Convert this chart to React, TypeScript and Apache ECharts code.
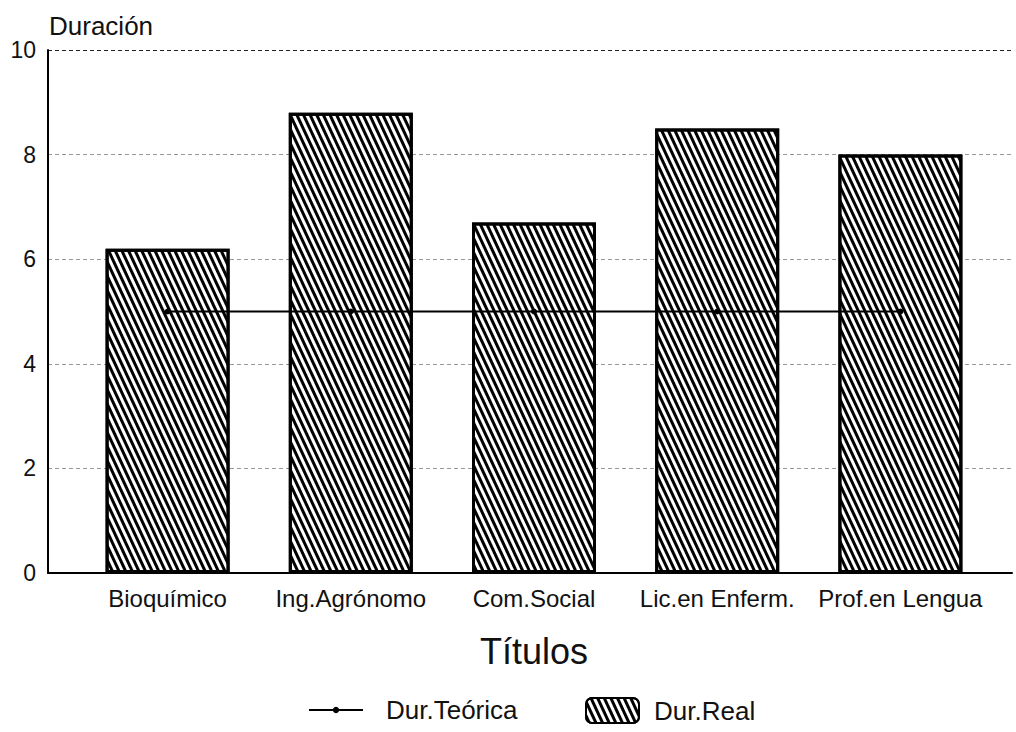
import React, { useEffect, useRef } from "react";
import * as echarts from "echarts";

const categories = ["Bioquímico", "Ing.Agrónomo", "Com.Social", "Lic.en Enferm.", "Prof.en Lengua"];
const durReal = [6.2, 8.8, 6.7, 8.5, 8.0];
const durTeorica = [5, 5, 5, 5, 5];
const yTicks = { min: 0, max: 10, interval: 2 };

const FONT = "'Liberation Sans', Arial, sans-serif";

export default function App() {
  const ref = useRef<HTMLDivElement>(null);
  useEffect(() => {
    document.body.style.margin = "0";
    const chart = echarts.init(ref.current!, null, { renderer: "svg" });
    const hatch = {
      symbol: "rect",
      symbolSize: 1,
      dashArrayX: [1, 0],
      dashArrayY: [3, 3],
      rotation: (65 * Math.PI) / 180,
      color: "#000",
    };
    chart.setOption({
      animation: false,
      backgroundColor: "#fff",
      title: {
        text: "Duración",
        left: 44,
        top: 8,
        textStyle: { fontFamily: FONT, fontSize: 26, fontWeight: "normal", color: "#111" },
      },
      legend: [
        {
          left: 303,
          top: 692,
          itemWidth: 54,
          itemHeight: 8,
          textStyle: { fontFamily: FONT, fontSize: 26, color: "#111", padding: [0, 0, 0, 18] },
          data: ["Dur.Teórica"],
        },
        {
          left: 580,
          top: 692,
          itemWidth: 53,
          itemHeight: 25,
          textStyle: { fontFamily: FONT, fontSize: 26, color: "#111", padding: [0, 0, 0, 10] },
          data: ["Dur.Real"],
        },
      ],
      grid: [
        { left: 48, right: 4, top: 50, bottom: 159 },
        { left: 76, right: 24, top: 50, bottom: 159 },
      ],
      xAxis: [
        {
          gridIndex: 0,
          type: "value",
          min: 0,
          max: 1,
          axisLine: { show: true, onZero: false, lineStyle: { color: "#000", width: 2 } },
          axisTick: { show: false },
          axisLabel: { show: false },
          splitLine: { show: false },
        },
        {
          gridIndex: 1,
          type: "category",
          data: categories,
          axisLine: { show: false },
          axisTick: { show: false },
          axisLabel: { fontFamily: FONT, fontSize: 24, color: "#111", margin: 13, interval: 0 },
          name: "Títulos",
          nameLocation: "middle",
          nameGap: 60,
          nameTextStyle: { fontFamily: FONT, fontSize: 36, color: "#111" },
        },
      ],
      yAxis: [
        {
          gridIndex: 0,
          type: "value",
          min: yTicks.min,
          max: yTicks.max,
          interval: yTicks.interval,
          axisLine: { show: true, lineStyle: { color: "#000", width: 2 } },
          axisTick: { show: false },
          axisLabel: { fontFamily: FONT, fontSize: 23, color: "#111", margin: 12 },
          splitLine: {
            show: true,
            lineStyle: {
              color: ["#999", "#999", "#999", "#999", "#999", "#222"],
              type: [4, 3],
              width: 1,
            },
          },
        },
        {
          gridIndex: 1,
          type: "value",
          min: yTicks.min,
          max: yTicks.max,
          interval: yTicks.interval,
          show: false,
        },
      ],
      series: [
        {
          name: "Dur.Real",
          type: "bar",
          xAxisIndex: 1,
          yAxisIndex: 1,
          data: durReal,
          barWidth: 124,
          itemStyle: {
            color: "#fff",
            borderColor: "#000",
            borderWidth: 3,
            decal: hatch,
          },
        },
        {
          name: "Dur.Teórica",
          type: "line",
          xAxisIndex: 1,
          yAxisIndex: 1,
          data: durTeorica,
          symbol: "circle",
          symbolSize: 6,
          z: 5,
          itemStyle: { color: "#000" },
          lineStyle: { color: "#000", width: 1.8 },
        },
      ],
    });
    return () => chart.dispose();
  }, []);
  return <div ref={ref} style={{ width: 1016, height: 732 }} />;
}
